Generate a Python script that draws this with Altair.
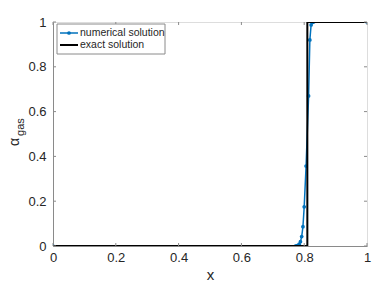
import altair as alt
import pandas as pd

# numerical solution
num_x = [0.0, 0.772, 0.776, 0.780, 0.784, 0.788, 0.792, 0.796, 0.800, 0.806, 0.814, 0.818, 0.822, 0.826, 0.830, 1.0]
num_y = [0.0, 0.0, 0.001, 0.003, 0.008, 0.019, 0.042, 0.086, 0.175, 0.357, 0.67, 0.92, 0.987, 0.998, 1.0, 1.0]
# exact solution
exact_x = [0.0, 0.81, 0.81, 1.0]
exact_y = [0.0, 0.0, 1.0, 1.0]
# ticks
tick_vals = [0, 0.2, 0.4, 0.6, 0.8, 1]
legend_labels = ["numerical solution", "exact solution"]

W, H = 314, 224
AX = "#8a8a8a"
FONT = "Liberation Sans"
BLUE = "#0072BD"

num_df = pd.DataFrame({"x": num_x, "y": num_y, "i": range(len(num_x))})
ex_df = pd.DataFrame({"x": exact_x, "y": exact_y, "i": range(len(exact_x))})
tk_df = pd.DataFrame({"t": tick_vals})

xs = alt.Scale(domain=[0, 1], nice=False, zero=False)
ys = alt.Scale(domain=[0, 1], nice=False, zero=False)

xaxis = alt.Axis(values=tick_vals, format="~g", title="x", grid=False, tickSize=0,
                 labelPadding=5, titlePadding=3, domainColor=AX, labelFont=FONT,
                 labelFontSize=13, labelColor="#262626", titleFont=FONT, titleFontSize=15,
                 titleFontWeight="normal", titleColor="#262626", labelFlush=False)
yaxis = alt.Axis(values=tick_vals, format="~g", title=None, grid=False, tickSize=0,
                 labelPadding=7, domainColor=AX, labelFont=FONT, labelFontSize=13,
                 labelColor="#262626", labelFlush=False)

num_line = alt.Chart(num_df).mark_line(
    color=BLUE, strokeWidth=1.5, clip=True,
    point=alt.OverlayMarkDef(filled=True, color=BLUE, size=14)
).encode(
    x=alt.X("x:Q", scale=xs, axis=xaxis),
    y=alt.Y("y:Q", scale=ys, axis=yaxis),
    order="i:Q",
)

ex_line = alt.Chart(ex_df).mark_line(color="black", strokeWidth=2, clip=True).encode(
    x=alt.X("x:Q", scale=xs),
    y=alt.Y("y:Q", scale=ys),
    order="i:Q",
)

# inward ticks (MATLAB style)
xt_bot = alt.Chart(tk_df).mark_rule(color=AX).encode(x=alt.X("t:Q", scale=xs), y=alt.value(H), y2=alt.value(H - 3))
xt_top = alt.Chart(tk_df).mark_rule(color=AX).encode(x=alt.X("t:Q", scale=xs), y=alt.value(0), y2=alt.value(3))
yt_l = alt.Chart(tk_df).mark_rule(color=AX).encode(y=alt.Y("t:Q", scale=ys), x=alt.value(0), x2=alt.value(3))
yt_r = alt.Chart(tk_df).mark_rule(color=AX).encode(y=alt.Y("t:Q", scale=ys), x=alt.value(W), x2=alt.value(W - 3))

# y title: alpha with subscript "gas"
one = pd.DataFrame({"a": [0]})
alpha_t = alt.Chart(one).mark_text(text="α", angle=270, font=FONT, fontSize=14, color="#262626",
                                   align="center", baseline="middle").encode(x=alt.value(-38), y=alt.value(120))
gas_t = alt.Chart(one).mark_text(text="gas", angle=270, font=FONT, fontSize=11, color="#262626",
                                 align="center", baseline="middle").encode(x=alt.value(-32), y=alt.value(105))

# legend
box = alt.Chart(one).mark_rect(fill="white", stroke=AX, strokeWidth=1).encode(
    x=alt.value(4), x2=alt.value(112), y=alt.value(2), y2=alt.value(32))
lg_num = alt.Chart(one).mark_rule(color=BLUE, strokeWidth=1.5).encode(
    x=alt.value(7), x2=alt.value(25), y=alt.value(11))
lg_num_pt = alt.Chart(one).mark_point(filled=True, color=BLUE, size=14, opacity=1).encode(
    x=alt.value(16), y=alt.value(11))
lg_ex = alt.Chart(one).mark_rule(color="black", strokeWidth=2).encode(
    x=alt.value(7), x2=alt.value(25), y=alt.value(23))
lg_txt1 = alt.Chart(one).mark_text(text=legend_labels[0], font=FONT, fontSize=10.5, color="#262626",
                                   align="left", baseline="middle").encode(x=alt.value(27), y=alt.value(11))
lg_txt2 = alt.Chart(one).mark_text(text=legend_labels[1], font=FONT, fontSize=10.5, color="#262626",
                                   align="left", baseline="middle").encode(x=alt.value(27), y=alt.value(23))

chart = alt.layer(
    num_line, ex_line, xt_bot, xt_top, yt_l, yt_r, alpha_t, gas_t,
    box, lg_num, lg_num_pt, lg_ex, lg_txt1, lg_txt2
).properties(
    width=W, height=H,
    autosize=alt.AutoSizeParams(type="none"),
    padding={"left": 45, "top": 14, "right": 7, "bottom": 40},
).configure_view(stroke=AX, strokeWidth=1).configure(background="white")

chart.save("out.html", embed_options={"renderer": "svg", "actions": False})
